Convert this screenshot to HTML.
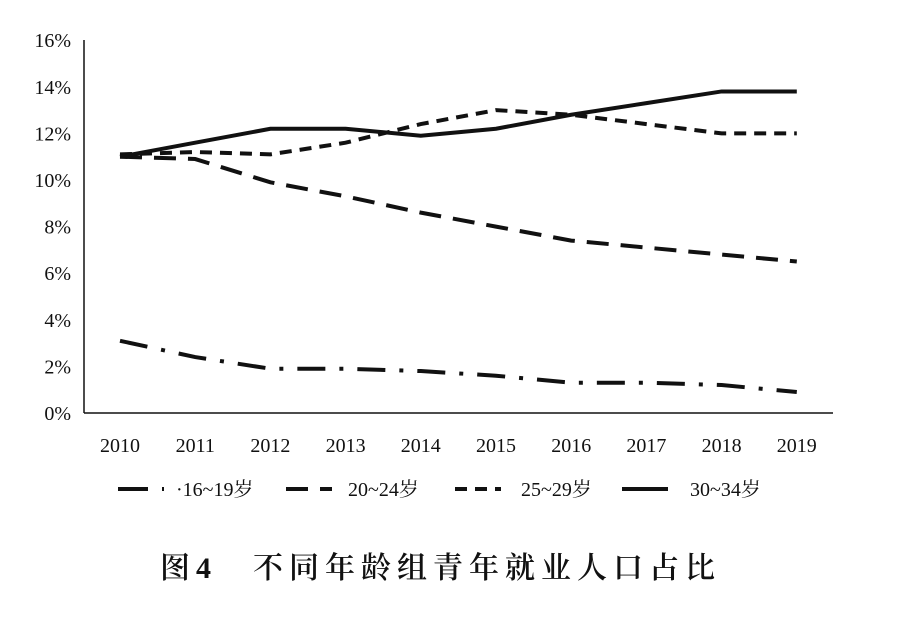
<!DOCTYPE html>
<html><head><meta charset="utf-8"><style>
body{margin:0;background:#fff;}
svg text{font-family:"Liberation Serif","Noto Serif CJK SC",serif;fill:#111;}
</style></head><body>
<svg width="912" height="618">
<g id="axes"></g><g id="series"></g><g id="legend"></g>
<text x="160" y="578" font-size="30" letter-spacing="6" font-weight="600">图4　不同年龄组青年就业人口占比</text>
</svg>
<script>
const years=["2010","2011","2012","2013","2014","2015","2016","2017","2018","2019"];
const yTicks=[0,2,4,6,8,10,12,14,16];
const s1619=[3.1,2.4,1.9,1.9,1.8,1.6,1.3,1.3,1.2,0.9];
const s2024=[11.0,10.9,9.9,9.3,8.6,8.0,7.4,7.1,6.8,6.5];
const s2529=[11.1,11.2,11.1,11.6,12.4,13.0,12.8,12.4,12.0,12.0];
const s3034=[11.0,11.6,12.2,12.2,11.9,12.2,12.8,13.3,13.8,13.8];
const seriesNames=["·16~19岁","20~24岁","25~29岁","30~34岁"];
const NS="http://www.w3.org/2000/svg";
const x=i=>120+i*75.2;
const y=v=>413-v*23.3;
function mk(t,a,p){const e=document.createElementNS(NS,t);for(const k in a)e.setAttribute(k,a[k]);p.appendChild(e);return e;}
const ax=document.getElementById('axes');
let l=mk('line',{x1:84,y1:40,x2:84,y2:413,stroke:'#111','stroke-width':1.5},ax);


l=mk('line',{x1:84,y1:413,x2:833,y2:413,stroke:'#111','stroke-width':1.5},ax);


yTicks.forEach(v=>{const t=mk('text',{x:71,y:y(v)+7,'text-anchor':'end','font-size':20},ax);t.textContent=v+'%';

});
years.forEach((yr,i)=>{const t=mk('text',{x:x(i),y:452,'text-anchor':'middle','font-size':20},ax);t.textContent=yr;

});
const dashes=["28 14 4 14","22 12","12 8","none"];
const data=[s1619,s2024,s2529,s3034];
const sg=document.getElementById('series');
data.forEach((d,k)=>{const p=mk('polyline',{points:d.map((v,i)=>x(i)+','+y(v)).join(' '),fill:'none',stroke:'#111','stroke-width':4,'stroke-dasharray':dashes[k]},sg);

});
const lg=document.getElementById('legend');
const lx=[118,286,455,622],tx=[176,348,521,690];
seriesNames.forEach((n,k)=>{const g=mk('g',{},lg);


mk('line',{x1:lx[k],y1:489,x2:lx[k]+46,y2:489,stroke:'#111','stroke-width':4,'stroke-dasharray':k==0?'30 14':dashes[k]},g);
const t=mk('text',{x:tx[k],y:496,'font-size':20},g);t.textContent=n;});
</script>
</body></html>
